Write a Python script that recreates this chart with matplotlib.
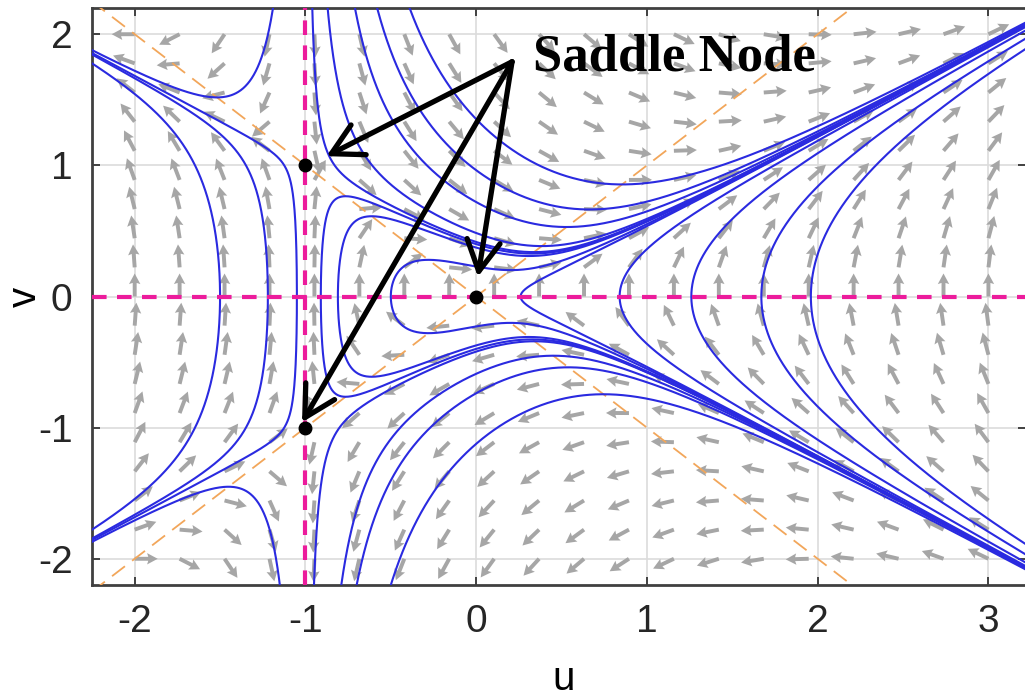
import numpy as np
import matplotlib
matplotlib.use("Agg")
import matplotlib.pyplot as plt

plt.rcParams["axes.unicode_minus"] = False

# --- data ---
u_range = (-2.25, 3.22)
v_range = (-2.2, 2.2)
u_ticks = [-2, -1, 0, 1, 2, 3]
v_ticks = [-2, -1, 0, 1, 2]

# equilibria (black dots)
eq_u = [-1, 0, -1]
eq_v = [1, 0, -1]

# trajectory seeds: crossings of v = 0, of the top edge and of the bottom edge
seed_u_axis = [-1.50, -1.22, -1.05, -0.91, -0.81, -0.50, 0.26, 0.84, 1.26, 1.67, 1.96]
seed_u_top = [-1.19, -0.96, -0.87, -0.71, -0.58, -0.39]
seed_u_bottom = [-1.15, -0.95, -0.79, -0.70, -0.50]

# quiver grid
grid_u = np.linspace(-2, 3, 20)
grid_v = np.linspace(-2, 2, 19)

# annotation
label = "Saddle Node"
label_pos = (1.16, 1.72)
arrow_from = (0.21, 1.79)
arrow_to = [(-0.877, 1.07), (0.01, 0.15), (-1.02, -0.96)]


def field(u, v):
    return v * (u + 1), u ** 2 - v ** 2


def trajectory(u0, v0, sign, h=0.004, nmax=5000):
    def f(a, b):
        du, dv = field(a, b)
        n = np.hypot(du, dv)
        if n < 1e-4:
            return None
        return sign * du / n, sign * dv / n

    pts = [(u0, v0)]
    u, v = u0, v0
    for _ in range(nmax):
        k1 = f(u, v)
        if k1 is None:
            break
        k2 = f(u + h / 2 * k1[0], v + h / 2 * k1[1])
        if k2 is None:
            break
        k3 = f(u + h / 2 * k2[0], v + h / 2 * k2[1])
        if k3 is None:
            break
        k4 = f(u + h * k3[0], v + h * k3[1])
        if k4 is None:
            break
        u += h / 6 * (k1[0] + 2 * k2[0] + 2 * k3[0] + k4[0])
        v += h / 6 * (k1[1] + 2 * k2[1] + 2 * k3[1] + k4[1])
        pts.append((u, v))
        if u < -2.4 or u > 3.4 or abs(v) > 2.35:
            break
    return np.array(pts)


fig = plt.figure(figsize=(10.25, 6.99), dpi=100)
ax = fig.add_axes([92 / 1025, 1 - 585 / 699, (1026 - 92) / 1025, 577 / 699])

# vector field, arrows of equal length on screen
U, V = np.meshgrid(grid_u, grid_v)
dU, dV = field(U, V)
px_u = 934 / (u_range[1] - u_range[0])
px_v = 577 / (v_range[1] - v_range[0])
su, sv = dU * px_u, dV * px_v
n = np.hypot(su, sv)
n[n == 0] = 1
ax.quiver(U, V, su / n, sv / n, angles="uv", scale_units="dots", scale=1 / 23,
          color="#a6a6a6", width=0.0042, headwidth=2.9, headlength=2.7,
          headaxislength=2.4, pivot="tail", zorder=2)

# nullclines
line_u = np.array(u_range)
ax.plot(line_u, line_u, color="#f2a65a", lw=1.3, dashes=(9, 5), zorder=3)
ax.plot(line_u, -line_u, color="#f2a65a", lw=1.3, dashes=(9, 5), zorder=3)

# trajectories
seeds = ([(s, 0.0) for s in seed_u_axis] + [(s, v_range[1]) for s in seed_u_top]
         + [(s, v_range[0]) for s in seed_u_bottom])
for su0, sv0 in seeds:
    fwd = trajectory(su0, sv0, 1)
    bwd = trajectory(su0, sv0, -1)
    path = np.vstack([bwd[::-1], fwd[1:]])
    ax.plot(path[:, 0], path[:, 1], color="#2a2ae0", lw=1.5, zorder=4)

ax.axhline(0, color="#ec1c9c", lw=3, dashes=(3.5, 2.5), zorder=5)
ax.axvline(-1, color="#ec1c9c", lw=3, dashes=(3.5, 2.5), zorder=5)
ax.plot(eq_u, eq_v, "o", color="black", ms=9, zorder=6)

# annotation
ax.text(label_pos[0], label_pos[1], label, fontsize=38, fontweight="bold",
        family="Liberation Serif", ha="center", va="baseline", zorder=8)
for tgt in arrow_to:
    ax.annotate("", xy=tgt, xytext=arrow_from, zorder=8,
                arrowprops=dict(arrowstyle="->,head_length=0.55,head_width=0.3",
                                lw=3.8, color="black", mutation_scale=40,
                                shrinkA=0, shrinkB=0))

ax.set_xlim(*u_range)
ax.set_ylim(*v_range)
ax.set_xticks(u_ticks)
ax.set_yticks(v_ticks)
ax.grid(True, color="#dcdcdc", lw=1.2, zorder=0)
ax.set_axisbelow(True)
ax.tick_params(direction="in", length=6, width=1.2, top=True, right=True,
               labelsize=28, pad=14, colors="#262626")
for lab in ax.get_xticklabels() + ax.get_yticklabels():
    lab.set_family("Liberation Sans")
for side in ax.spines.values():
    side.set_color("#404040")
    side.set_linewidth(2)

ax.set_xlabel("u", fontsize=29, family="Liberation Sans")
ax.set_ylabel("v", fontsize=29, family="Liberation Sans")
ax.xaxis.set_label_coords(0.505, -0.13)
ax.yaxis.set_label_coords(-0.052, 0.5)

fig.savefig("out.png", dpi=100)
